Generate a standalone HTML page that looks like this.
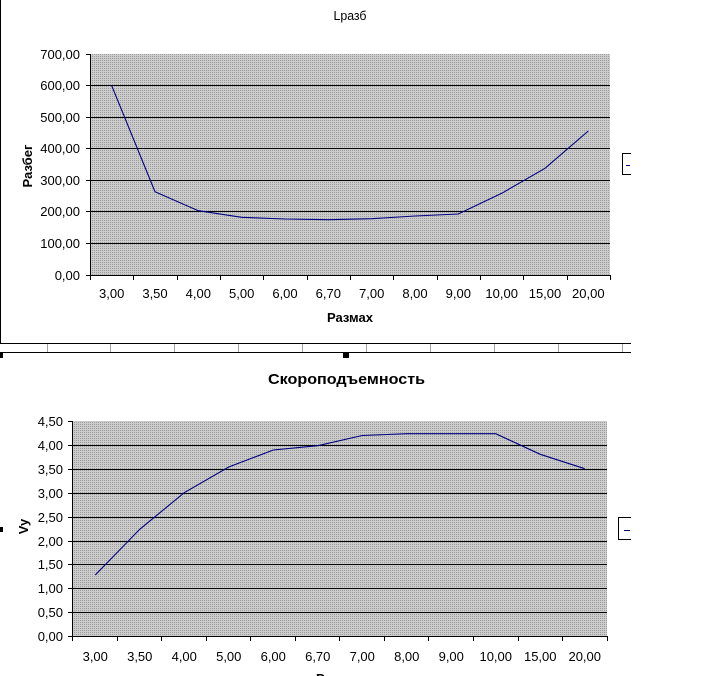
<!DOCTYPE html>
<html>
<head>
<meta charset="utf-8">
<style>
html,body{margin:0;padding:0;background:#fff;}
svg{display:block;}
text{font-family:"Liberation Sans","DejaVu Sans",sans-serif;}
</style>
</head>
<body>
<svg width="720" height="676" viewBox="0 0 720 676" xmlns="http://www.w3.org/2000/svg">
<defs>
<pattern id="dots" x="0" y="0" width="2" height="2" patternUnits="userSpaceOnUse">
<rect x="0" y="0" width="2" height="2" fill="#cccccc"/>
<rect x="0" y="0" width="1" height="1" fill="#9c9c9c"/>
</pattern>
</defs>

<!-- ===== Chart 1 frame ===== -->
<g shape-rendering="crispEdges">
<rect x="0" y="0" width="1" height="344" fill="#000"/>
<rect x="0" y="343" width="631" height="1" fill="#000"/>
<rect x="0" y="352" width="631" height="1" fill="#000"/>
<g fill="#a0a0a0">
<rect x="47" y="344" width="1" height="8"/>
<rect x="110" y="344" width="1" height="8"/>
<rect x="174" y="344" width="1" height="8"/>
<rect x="238" y="344" width="1" height="8"/>
<rect x="302" y="344" width="1" height="8"/>
<rect x="366" y="344" width="1" height="8"/>
<rect x="430" y="344" width="1" height="8"/>
<rect x="494" y="344" width="1" height="8"/>
<rect x="558" y="344" width="1" height="8"/>
<rect x="622" y="344" width="1" height="8"/>
</g>
<!-- selection handles -->
<rect x="0" y="353" width="3" height="5" fill="#000"/>
<rect x="343" y="353" width="6" height="5" fill="#000"/>
<rect x="0" y="527" width="3" height="5" fill="#000"/>
</g>

<!-- ===== Chart 1 ===== -->
<text x="350" y="20" font-size="13" text-anchor="middle" textLength="33" lengthAdjust="spacingAndGlyphs">Lразб</text>

<g shape-rendering="crispEdges">
<rect x="91" y="54" width="519" height="221" fill="url(#dots)"/>
<g fill="#000">
<rect x="91" y="85" width="519" height="1"/>
<rect x="91" y="117" width="519" height="1"/>
<rect x="91" y="148" width="519" height="1"/>
<rect x="91" y="180" width="519" height="1"/>
<rect x="91" y="211" width="519" height="1"/>
<rect x="91" y="243" width="519" height="1"/>
<!-- axes -->
<rect x="90" y="54" width="1" height="222"/>
<rect x="90" y="275" width="521" height="1"/>
<!-- y ticks -->
<rect x="86" y="54" width="4" height="1"/>
<rect x="86" y="85" width="4" height="1"/>
<rect x="86" y="117" width="4" height="1"/>
<rect x="86" y="148" width="4" height="1"/>
<rect x="86" y="180" width="4" height="1"/>
<rect x="86" y="211" width="4" height="1"/>
<rect x="86" y="243" width="4" height="1"/>
<rect x="86" y="275" width="4" height="1"/>
<!-- x ticks -->
<rect x="90" y="275" width="1" height="5"/>
<rect x="133" y="275" width="1" height="5"/>
<rect x="177" y="275" width="1" height="5"/>
<rect x="220" y="275" width="1" height="5"/>
<rect x="263" y="275" width="1" height="5"/>
<rect x="307" y="275" width="1" height="5"/>
<rect x="350" y="275" width="1" height="5"/>
<rect x="393" y="275" width="1" height="5"/>
<rect x="437" y="275" width="1" height="5"/>
<rect x="480" y="275" width="1" height="5"/>
<rect x="523" y="275" width="1" height="5"/>
<rect x="567" y="275" width="1" height="5"/>
<rect x="610" y="275" width="1" height="5"/>
</g>
</g>

<polyline fill="none" stroke="#000080" stroke-width="1.1" points="111.7,85.7 155,191.7 198.3,210.7 241.7,217.3 285,219 328.3,219.7 371.7,218.7 415,216 458.3,214 501.7,193.3 545,168.3 588.3,131"/>

<g font-size="13" text-anchor="end">
<text x="80" y="59">700,00</text>
<text x="80" y="90">600,00</text>
<text x="80" y="122">500,00</text>
<text x="80" y="153">400,00</text>
<text x="80" y="185">300,00</text>
<text x="80" y="216">200,00</text>
<text x="80" y="248">100,00</text>
<text x="80" y="280">0,00</text>
</g>
<g font-size="13" text-anchor="middle">
<text x="111.7" y="298">3,00</text>
<text x="155" y="298">3,50</text>
<text x="198.3" y="298">4,00</text>
<text x="241.7" y="298">5,00</text>
<text x="285" y="298">6,00</text>
<text x="328.3" y="298">6,70</text>
<text x="371.7" y="298">7,00</text>
<text x="415" y="298">8,00</text>
<text x="458.3" y="298">9,00</text>
<text x="501.7" y="298">10,00</text>
<text x="545" y="298">15,00</text>
<text x="588.3" y="298">20,00</text>
</g>
<text x="350" y="322" font-size="13" font-weight="bold" text-anchor="middle" textLength="46" lengthAdjust="spacingAndGlyphs">Размах</text>
<text transform="translate(32,166) rotate(-90)" font-size="13" font-weight="bold" text-anchor="middle" textLength="43" lengthAdjust="spacingAndGlyphs">Разбег</text>

<!-- legend 1 -->
<g shape-rendering="crispEdges">
<rect x="622" y="153" width="1" height="22" fill="#000"/>
<rect x="622" y="153" width="9" height="1" fill="#000"/>
<rect x="622" y="174" width="9" height="1" fill="#000"/>
<rect x="626" y="165" width="4" height="1" fill="#000080"/>
</g>

<!-- ===== Chart 2 ===== -->
<text x="346.5" y="384" font-size="15" font-weight="bold" text-anchor="middle" textLength="157" lengthAdjust="spacingAndGlyphs">Скороподъемность</text>

<g shape-rendering="crispEdges">
<rect x="73" y="421" width="534" height="215" fill="url(#dots)"/>
<g fill="#000">
<rect x="73" y="445" width="534" height="1"/>
<rect x="73" y="469" width="534" height="1"/>
<rect x="73" y="493" width="534" height="1"/>
<rect x="73" y="517" width="534" height="1"/>
<rect x="73" y="541" width="534" height="1"/>
<rect x="73" y="564" width="534" height="1"/>
<rect x="73" y="588" width="534" height="1"/>
<rect x="73" y="612" width="534" height="1"/>
<!-- axes -->
<rect x="72" y="421" width="1" height="216"/>
<rect x="72" y="636" width="536" height="1"/>
<!-- y ticks -->
<rect x="68" y="421" width="4" height="1"/>
<rect x="68" y="445" width="4" height="1"/>
<rect x="68" y="469" width="4" height="1"/>
<rect x="68" y="493" width="4" height="1"/>
<rect x="68" y="517" width="4" height="1"/>
<rect x="68" y="541" width="4" height="1"/>
<rect x="68" y="564" width="4" height="1"/>
<rect x="68" y="588" width="4" height="1"/>
<rect x="68" y="612" width="4" height="1"/>
<rect x="68" y="636" width="4" height="1"/>
<!-- x ticks -->
<rect x="72" y="636" width="1" height="5"/>
<rect x="117" y="636" width="1" height="5"/>
<rect x="161" y="636" width="1" height="5"/>
<rect x="206" y="636" width="1" height="5"/>
<rect x="250" y="636" width="1" height="5"/>
<rect x="295" y="636" width="1" height="5"/>
<rect x="339" y="636" width="1" height="5"/>
<rect x="384" y="636" width="1" height="5"/>
<rect x="428" y="636" width="1" height="5"/>
<rect x="473" y="636" width="1" height="5"/>
<rect x="518" y="636" width="1" height="5"/>
<rect x="562" y="636" width="1" height="5"/>
<rect x="607" y="636" width="1" height="5"/>
</g>
</g>

<polyline fill="none" stroke="#000080" stroke-width="1.1" points="95.25,575 139.75,529.3 184.25,492.7 228.75,467 273.25,450 317.75,445.7 362.25,435.5 406.75,433.7 451.25,433.7 495.75,433.7 540.25,454.3 584.75,468.7"/>

<g font-size="13" text-anchor="end">
<text x="63" y="426">4,50</text>
<text x="63" y="450">4,00</text>
<text x="63" y="474">3,50</text>
<text x="63" y="498">3,00</text>
<text x="63" y="522">2,50</text>
<text x="63" y="546">2,00</text>
<text x="63" y="569">1,50</text>
<text x="63" y="593">1,00</text>
<text x="63" y="617">0,50</text>
<text x="63" y="641">0,00</text>
</g>
<g font-size="13" text-anchor="middle">
<text x="95.25" y="661">3,00</text>
<text x="139.75" y="661">3,50</text>
<text x="184.25" y="661">4,00</text>
<text x="228.75" y="661">5,00</text>
<text x="273.25" y="661">6,00</text>
<text x="317.75" y="661">6,70</text>
<text x="362.25" y="661">7,00</text>
<text x="406.75" y="661">8,00</text>
<text x="451.25" y="661">9,00</text>
<text x="495.75" y="661">10,00</text>
<text x="540.25" y="661">15,00</text>
<text x="584.75" y="661">20,00</text>
</g>
<text x="339" y="683" font-size="13" font-weight="bold" text-anchor="middle" textLength="46" lengthAdjust="spacingAndGlyphs">Размах</text>
<text transform="translate(28,526.5) rotate(-90)" font-size="13" font-weight="bold" text-anchor="middle">Vy</text>

<!-- legend 2 -->
<g shape-rendering="crispEdges">
<rect x="618" y="517" width="1" height="23" fill="#000"/>
<rect x="618" y="517" width="13" height="1" fill="#000"/>
<rect x="618" y="539" width="13" height="1" fill="#000"/>
<rect x="624" y="530" width="6" height="1" fill="#000080"/>
</g>
</svg>
</body>
</html>
